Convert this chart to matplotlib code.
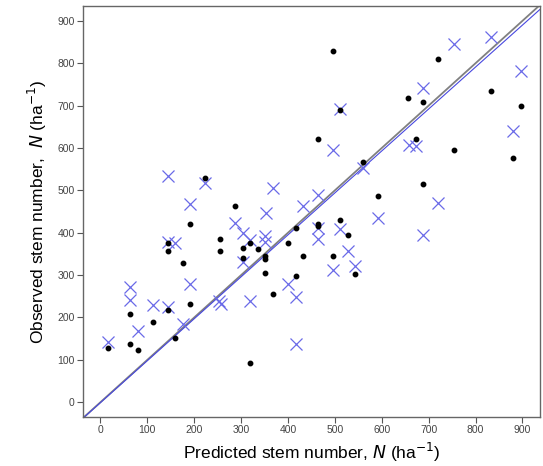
import matplotlib.pyplot as plt

# observed vs predicted stem numbers (ha^-1), model 1 (dots)
pred_dot = [16, 64, 81, 64, 112, 159, 144, 144, 144, 176, 192, 192, 224, 256,
            256, 288, 304, 304, 320, 337, 320, 352, 352, 352, 368, 401, 417,
            417, 432, 463, 463, 463, 496, 512, 512, 529, 496, 544, 561, 593,
            657, 689, 674, 689, 720, 754, 833, 881, 898]
obs_dot = [128, 138, 123, 209, 190, 151, 217, 357, 375, 328, 233, 420, 530, 386,
           357, 464, 364, 340, 375, 361, 93, 344, 337, 305, 255, 375, 412,
           298, 344, 622, 421, 416, 829, 690, 430, 394, 346, 302, 566, 487,
           719, 708, 622, 515, 810, 596, 734, 577, 700]

# model 2 (crosses)
pred_x = [16, 64, 64, 81, 112, 144, 144, 144, 160, 176, 192, 192, 224, 253,
          258, 288, 304, 304, 320, 320, 352, 352, 369, 353, 432, 465, 465,
          465, 512, 529, 544, 497, 401, 417, 417, 561, 496, 512, 593, 658,
          673, 689, 689, 720, 754, 833, 881, 897]
obs_x = [141, 272, 242, 169, 229, 225, 533, 377, 375, 185, 280, 468, 517, 240,
         233, 423, 399, 331, 382, 240, 393, 378, 505, 446, 462, 488, 411,
         385, 408, 358, 321, 311, 280, 248, 138, 552, 595, 691, 434, 607,
         605, 742, 394, 471, 845, 863, 640, 782]

# fitted line
fit_a = -1.0
fit_b = 0.99

xticks = list(range(0, 1000, 100))
yticks = list(range(0, 1000, 100))

plt.rcParams['font.family'] = ['Liberation Sans', 'DejaVu Sans']

fig = plt.figure(figsize=(5.43, 4.66), dpi=100)
ax = fig.add_axes([0.153, 0.105, 0.841, 0.882])

xlim = (-37, 937)
ylim = (-35, 935)
ax.set_xlim(xlim)
ax.set_ylim(ylim)

# 1:1 line and fitted line
ax.plot(xlim, xlim, color='#808080', linewidth=1.3, zorder=1)
ax.plot(xlim, [fit_a + fit_b * v for v in xlim], color='#4848e0',
        linewidth=0.8, zorder=2)

ax.plot(pred_x, obs_x, linestyle='none', marker='x', markersize=8,
        markeredgewidth=0.9, color='#6a6ae8', zorder=3)
ax.plot(pred_dot, obs_dot, linestyle='none', marker='o', markersize=3.2,
        color='black', zorder=4)

ax.set_xticks(xticks)
ax.set_yticks(yticks)
ax.tick_params(direction='out', length=4, width=0.8, color='#555555',
               labelsize=7.5, labelcolor='#444444', pad=2)
for s in ax.spines.values():
    s.set_color('#666666')
    s.set_linewidth(1.0)

ax.set_xlabel('Predicted stem number, $\\it{N}$ (ha$^{-1}$)', fontsize=12.5,
              labelpad=4)
ax.set_ylabel('Observed stem number,  $\\it{N}$ (ha$^{-1}$)', fontsize=12.5,
              labelpad=6)

fig.savefig('out.png', dpi=100)
